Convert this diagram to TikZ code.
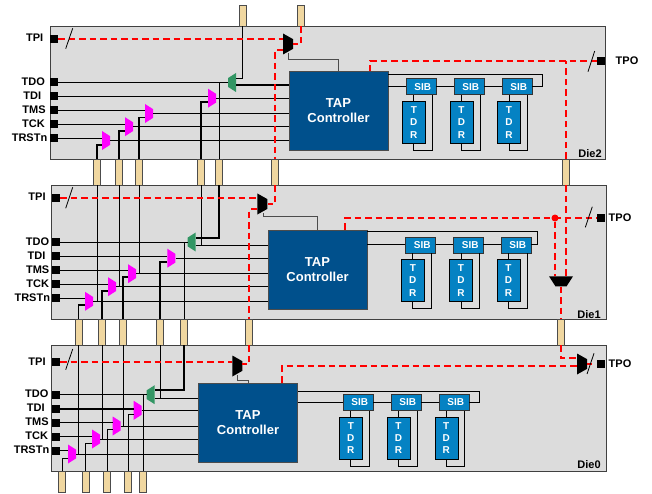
\documentclass[tikz,border=0pt]{standalone}
\usepackage{fontspec}
\setmainfont{Liberation Sans}
\usetikzlibrary{shapes.geometric}
\definecolor{dieback}{RGB}{220,220,220}
\definecolor{tapblue}{RGB}{0,80,140}
\definecolor{sibblue}{RGB}{5,130,195}
\definecolor{tsvtan}{RGB}{240,215,160}
\definecolor{muxgreen}{RGB}{50,150,100}
\definecolor{muxpurple}{RGB}{255,0,255}
\definecolor{scanred}{RGB}{255,0,0}
\tikzset{
  diebox/.style={draw=black!75, fill=dieback, line width=0.9pt, minimum width=555pt, inner sep=0pt},
  tapbox/.style={draw=black!70, fill=tapblue, text=white, font=\fontsize{13}{15}\selectfont\bfseries, align=center, minimum width=99pt, minimum height=79pt, inner sep=0pt},
  sibbox/.style={draw=black!80, fill=sibblue, text=white, font=\fontsize{10}{12}\selectfont\bfseries, minimum width=30pt, minimum height=16pt, inner sep=0pt},
  tdrbox/.style={draw=black, fill=sibblue, text=white, font=\fontsize{10}{12.2}\selectfont\bfseries, align=center, minimum width=23pt, minimum height=42pt, inner sep=0pt},
  tsvbox/.style={draw=black!70, fill=tsvtan, line width=0.6pt, minimum width=7pt, inner sep=0pt},
  pinbox/.style={fill=black, minimum size=8pt, inner sep=0pt},
  pinlabel/.style={font=\fontsize{11}{12}\selectfont\bfseries, inner sep=0pt},
  dielabel/.style={font=\fontsize{11}{12}\selectfont\bfseries, inner sep=0pt},
  mux/.style={trapezium, trapezium left angle=60, trapezium right angle=60, trapezium stretches=true, inner sep=0.5pt, minimum height=8pt, minimum width=19pt, shape border rotate=#1},
  muxpink/.style={mux=270, fill=muxpurple},
  muxgrn/.style={mux=90, fill=muxgreen},
  muxblk/.style={mux=#1, fill=black, minimum height=10pt, minimum width=21pt},
  wire/.style={line width=0.8pt},
  bus/.style={line width=1.6pt},
  cfgwire/.style={line width=0.8pt, draw=black!70},
  redwire/.style={scanred, line width=1.4pt, dash pattern=on 6.5pt off 4pt},
}
\begin{document}
\begin{tikzpicture}[x=1pt,y=-1pt]
\useasboundingbox (0,0) rectangle (652,494);
% dies
\node[diebox, minimum height=133pt] (die2) at (327.5,92.5) {};
\node[diebox, minimum height=134pt] (die1) at (328.5,252) {};
\node[diebox, minimum height=126pt] (die0) at (328.5,408) {};
\node[dielabel] (name2) at (590,154) {Die2};
\node[dielabel] (name1) at (589,315) {Die1};
\node[dielabel] (name0) at (589,465) {Die0};
% TSVs
\node[tsvbox, minimum height=21pt] (vt2a) at (242.5,15.5) {};
\node[tsvbox, minimum height=21pt] (vt2b) at (301,15.5) {};
\node[tsvbox, minimum height=26pt] (v21a) at (97,172) {};
\node[tsvbox, minimum height=26pt] (v21b) at (119,172) {};
\node[tsvbox, minimum height=26pt] (v21c) at (139,172) {};
\node[tsvbox, minimum height=26pt] (v21d) at (201,172) {};
\node[tsvbox, minimum height=26pt] (v21e) at (219,172) {};
\node[tsvbox, minimum height=26pt] (v21t) at (275,172) {};
\node[tsvbox, minimum height=26pt] (v21o) at (566,172) {};
\node[tsvbox, minimum height=26pt] (v10a) at (78.5,332) {};
\node[tsvbox, minimum height=26pt] (v10b) at (102,332) {};
\node[tsvbox, minimum height=26pt] (v10c) at (123,332) {};
\node[tsvbox, minimum height=26pt] (v10d) at (160,332) {};
\node[tsvbox, minimum height=26pt] (v10e) at (184,332) {};
\node[tsvbox, minimum height=26pt] (v10t) at (249,332) {};
\node[tsvbox, minimum height=26pt] (v10o) at (561,332) {};
\node[tsvbox, minimum height=21pt] (v0a) at (62,481.5) {};
\node[tsvbox, minimum height=21pt] (v0b) at (85.5,481.5) {};
\node[tsvbox, minimum height=21pt] (v0c) at (107,481.5) {};
\node[tsvbox, minimum height=21pt] (v0d) at (128,481.5) {};
\node[tsvbox, minimum height=21pt] (v0e) at (143,481.5) {};
% pins
\node[pinbox] (ptpi2) at (54,39) {};
\node[pinbox] (ptdo2) at (54,82) {};
\node[pinbox] (ptdi2) at (54,96) {};
\node[pinbox] (ptms2) at (54,110) {};
\node[pinbox] (ptck2) at (54,124) {};
\node[pinbox] (prst2) at (54,138) {};
\node[pinbox] (ptpo2) at (601,61) {};
\node[pinbox] (ptpi1) at (56,198) {};
\node[pinbox] (ptdo1) at (56,242) {};
\node[pinbox] (ptdi1) at (56,256) {};
\node[pinbox] (ptms1) at (56,270) {};
\node[pinbox] (ptck1) at (56,284) {};
\node[pinbox] (prst1) at (56,298) {};
\node[pinbox] (ptpo1) at (601,218) {};
\node[pinbox] (ptpi0) at (56,362) {};
\node[pinbox] (ptdo0) at (56,394.5) {};
\node[pinbox] (ptdi0) at (56,408.7) {};
\node[pinbox] (ptms0) at (56,422.5) {};
\node[pinbox] (ptck0) at (56,436.5) {};
\node[pinbox] (prst0) at (56,450.5) {};
\node[pinbox] (ptpo0) at (601,364) {};
\node[pinlabel] (ltpi2) at (34.7,38) {TPI};
\node[pinlabel] (ltdo2) at (33.3,81.5) {TDO};
\node[pinlabel] (ltdi2) at (32.3,95.5) {TDI};
\node[pinlabel] (ltms2) at (34,109.5) {TMS};
\node[pinlabel] (ltck2) at (33.5,123.5) {TCK};
\node[pinlabel] (lrst2) at (29.5,137.5) {TRSTn};
\node[pinlabel] (ltpo2) at (627,60.5) {TPO};
\node[pinlabel] (ltpi1) at (37,197) {TPI};
\node[pinlabel] (ltdo1) at (37.5,241.5) {TDO};
\node[pinlabel] (ltdi1) at (36.5,255.5) {TDI};
\node[pinlabel] (ltms1) at (37.7,269.5) {TMS};
\node[pinlabel] (ltck1) at (37.7,283.5) {TCK};
\node[pinlabel] (lrst1) at (32.3,297.5) {TRSTn};
\node[pinlabel] (ltpo1) at (620,217.5) {TPO};
\node[pinlabel] (ltpi0) at (37,361.5) {TPI};
\node[pinlabel] (ltdo0) at (36.7,394) {TDO};
\node[pinlabel] (ltdi0) at (35.7,408) {TDI};
\node[pinlabel] (ltms0) at (37,422) {TMS};
\node[pinlabel] (ltck0) at (36.7,436) {TCK};
\node[pinlabel] (lrst0) at (31.5,449.5) {TRSTn};
\node[pinlabel] (ltpo0) at (620,363.5) {TPO};
% TAP controllers
\node[tapbox] (tap2) at (338.5,111) {TAP\\Controller};
\node[tapbox] (tap1) at (317.5,269.5) {TAP\\Controller};
\node[tapbox] (tap0) at (248,423) {TAP\\Controller};
% SIBs and TDRs
\node[sibbox] (sib21) at (420.7,86.7) {\hspace*{4pt}SIB};
\node[sibbox] (sib22) at (468.7,86.7) {\hspace*{4pt}SIB};
\node[sibbox] (sib23) at (516.7,86.7) {\hspace*{4pt}SIB};
\node[tdrbox] (tdr21) at (413.8,122.5) {T\\D\\R};
\node[tdrbox] (tdr22) at (461.5,122.5) {T\\D\\R};
\node[tdrbox] (tdr23) at (509,122.5) {T\\D\\R};
\node[sibbox] (sib11) at (420.3,244.8) {\hspace*{4pt}SIB};
\node[sibbox] (sib12) at (468.2,244.8) {\hspace*{4pt}SIB};
\node[sibbox] (sib13) at (515.7,244.8) {\hspace*{4pt}SIB};
\node[tdrbox] (tdr11) at (412.8,280.5) {T\\D\\R};
\node[tdrbox] (tdr12) at (461,280.5) {T\\D\\R};
\node[tdrbox] (tdr13) at (508.5,280.5) {T\\D\\R};
\node[sibbox] (sib01) at (357.8,402.3) {\hspace*{4pt}SIB};
\node[sibbox] (sib02) at (405.7,402.3) {\hspace*{4pt}SIB};
\node[sibbox] (sib03) at (453.7,402.3) {\hspace*{4pt}SIB};
\node[tdrbox] (tdr01) at (350.8,438.3) {T\\D\\R};
\node[tdrbox] (tdr02) at (398.5,438.3) {T\\D\\R};
\node[tdrbox] (tdr03) at (446.2,438.3) {T\\D\\R};
% muxes
\node[muxpink] (mrst2) at (106,140.5) {};
\node[muxpink] (mck2) at (129,126.7) {};
\node[muxpink] (mms2) at (149,113.5) {};
\node[muxpink] (mdi2) at (212,98.2) {};
\node[muxgrn] (mdo2) at (232,82.5) {};
\node[muxblk=270] (mtp2) at (288,44) {};
\node[muxpink] (mrst1) at (89,301.3) {};
\node[muxpink] (mck1) at (112,286.7) {};
\node[muxpink] (mms1) at (132,273.7) {};
\node[muxpink] (mdi1) at (171.3,258.2) {};
\node[muxgrn] (mdo1) at (191.7,242) {};
\node[muxblk=270] (mtp1) at (262.4,204) {};
\node[muxblk=180, minimum width=24pt] (mto1) at (561,281.3) {};
\node[muxpink] (mrst0) at (72,454) {};
\node[muxpink] (mck0) at (96,439) {};
\node[muxpink] (mms0) at (116.7,426) {};
\node[muxpink] (mdi0) at (137.7,410.3) {};
\node[muxgrn] (mdo0) at (150.7,394.7) {};
\node[muxblk=270] (mtp0) at (237.3,366) {};
\node[muxblk=270] (mto0) at (582,364) {};
% named ends
\coordinate (srst2) at (102,145);
\coordinate (sck2) at (125,131);
\coordinate (sms2) at (145,117.7);
\coordinate (sdi2) at (208,102);
\coordinate (sdo2) at (236,85);
\coordinate (udo2) at (236,78.3);
\coordinate (srst1) at (85,305);
\coordinate (sck1) at (108,290.7);
\coordinate (sms1) at (128,276.7);
\coordinate (sdi1) at (167.3,261.7);
\coordinate (sdo1) at (195.7,245);
\coordinate (udo1) at (195.7,238);
\coordinate (srst0) at (68,458.3);
\coordinate (sck0) at (92,443.3);
\coordinate (sms0) at (112.7,429.3);
\coordinate (sdi0) at (133.7,414);
\coordinate (sdo0) at (154.7,398.3);
\coordinate (udo0) at (154.7,390);
\coordinate (ret2) at (542.7,74.3);
\coordinate (ret1) at (537.7,231.3);
\coordinate (ret0) at (479.3,391);
\coordinate (lp21) at (432.3,150.3);
\coordinate (lp22) at (480.3,150.3);
\coordinate (lp23) at (527.3,150.3);
\coordinate (lp11) at (431.3,308);
\coordinate (lp12) at (479.3,308);
\coordinate (lp13) at (527.3,308);
\coordinate (lp01) at (369.7,466.3);
\coordinate (lp02) at (417.7,466.3);
\coordinate (lp03) at (464.7,466.3);
\coordinate (rout2) at (283,50);
\coordinate (rout1) at (257,209);
\coordinate (rtap2) at (370,71.5);
\coordinate (rtap1) at (345,229.5);
\coordinate (rtap0) at (282,382.5);
\coordinate (rin0) at (242,364);
\coordinate (rend0) at (577,366);
\coordinate (rsel0) at (577,358);
\coordinate (rpin0) at (592,364);
\coordinate (cfg2) at (288,53);
\coordinate (bnd2) at (288,59);
\coordinate (cfg1) at (263.3,213);
\coordinate (bnd1) at (263.3,216.7);
\coordinate (cfg0) at (237,375);
\coordinate (bnd0) at (237,380.7);
% die 2 wires
\draw[wire] (prst2.east) -- (prst2.east -| mrst2.west);
\draw[wire] (ptck2.east) -- (ptck2.east -| mck2.west);
\draw[wire] (ptms2.east) -- (ptms2.east -| mms2.west);
\draw[wire] (ptdi2.east) -- (ptdi2.east -| mdi2.west);
\draw[wire] (ptdo2.east) -- (ptdo2.east -| mdo2.west);
\draw[wire] (mrst2.east) -- (mrst2.east -| tap2.west);
\draw[wire] (mck2.east) -- (mck2.east -| tap2.west);
\draw[wire] (mms2.east) -- (mms2.east -| tap2.west);
\draw[wire] (mdi2.east) -- (mdi2.east -| tap2.west);
\draw[bus] (sdo2) -- (sdo2 -| tap2.west);
\draw[wire] (vt2a.south) |- (udo2);
\draw[bus] (v21a.north) |- (srst2);
\draw[bus] (v21b.north) |- (sck2);
\draw[bus] (v21c.north) |- (sms2);
\draw[bus] (v21d.north) |- (sdi2);
\draw[wire] (v21e.north) -- (v21e.north |- ptdo2.east);
\draw[wire] (tap2.east |- sib21.west) -- (sib21.west);
\draw[wire] (sib21) -- (sib22);
\draw[wire] (sib22) -- (sib23);
\draw[wire] (sib23.east) -| (ret2) -- (ret2 -| tap2.east);
\draw[wire] (tdr21.north) -- (tdr21.north |- sib21.south);
\draw[wire] (tdr22.north) -- (tdr22.north |- sib22.south);
\draw[wire] (tdr23.north) -- (tdr23.north |- sib23.south);
\draw[wire] (tdr21.south) |- (lp21) -- (lp21 |- sib21.south);
\draw[wire] (tdr22.south) |- (lp22) -- (lp22 |- sib22.south);
\draw[wire] (tdr23.south) |- (lp23) -- (lp23 |- sib23.south);
\draw[cfgwire] (cfg2) -- (bnd2) -| (tap2.north);
% die 1 wires
\draw[wire] (prst1.east) -- (prst1.east -| mrst1.west);
\draw[wire] (ptck1.east) -- (ptck1.east -| mck1.west);
\draw[wire] (ptms1.east) -- (ptms1.east -| mms1.west);
\draw[wire] (ptdi1.east) -- (ptdi1.east -| mdi1.west);
\draw[wire] (ptdo1.east) -- (ptdo1.east -| mdo1.west);
\draw[wire] (mrst1.east) -- (mrst1.east -| tap1.west);
\draw[wire] (mck1.east) -- (mck1.east -| tap1.west);
\draw[wire] (mms1.east) -- (mms1.east -| tap1.west);
\draw[wire] (mdi1.east) -- (mdi1.east -| tap1.west);
\draw[wire] (sdo1) -- (sdo1 -| tap1.west);
\draw[wire] (v21a.south) -- (v21a.south |- mrst1.east);
\draw[wire] (v21b.south) -- (v21b.south |- mck1.east);
\draw[wire] (v21c.south) -- (v21c.south |- mms1.east);
\draw[wire] (v21d.south) -- (v21d.south |- sdo1);
\draw[bus] (v21e.south) |- (udo1);
\draw[bus] (v10a.north) |- (srst1);
\draw[bus] (v10b.north) |- (sck1);
\draw[bus] (v10c.north) |- (sms1);
\draw[bus] (v10d.north) |- (sdi1);
\draw[wire] (v10e.north) -- (v10e.north |- ptdo1.east);
\draw[wire] (tap1.east |- sib11.west) -- (sib11.west);
\draw[wire] (sib11) -- (sib12);
\draw[wire] (sib12) -- (sib13);
\draw[wire] (sib13.east) -| (ret1) -- (ret1 -| tap1.east);
\draw[wire] (tdr11.north) -- (tdr11.north |- sib11.south);
\draw[wire] (tdr12.north) -- (tdr12.north |- sib12.south);
\draw[wire] (tdr13.north) -- (tdr13.north |- sib13.south);
\draw[wire] (tdr11.south) |- (lp11) -- (lp11 |- sib11.south);
\draw[wire] (tdr12.south) |- (lp12) -- (lp12 |- sib12.south);
\draw[wire] (tdr13.south) |- (lp13) -- (lp13 |- sib13.south);
\draw[cfgwire] (cfg1) -- (bnd1) -| (tap1.north);
% die 0 wires
\draw[bus] (prst0.east) -- (prst0.east -| mrst0.west);
\draw[bus] (ptck0.east) -- (ptck0.east -| mck0.west);
\draw[bus] (ptms0.east) -- (ptms0.east -| mms0.west);
\draw[bus] (ptdi0.east) -- (ptdi0.east -| mdi0.west);
\draw[bus] (ptdo0.east) -- (ptdo0.east -| mdo0.west);
\draw[wire] (mrst0.east) -- (mrst0.east -| tap0.west);
\draw[wire] (mck0.east) -- (mck0.east -| tap0.west);
\draw[wire] (mms0.east) -- (mms0.east -| tap0.west);
\draw[wire] (mdi0.east) -- (mdi0.east -| tap0.west);
\draw[wire] (sdo0) -- (sdo0 -| tap0.west);
\draw[wire] (v10a.south) -- (v10a.south |- mrst0.east);
\draw[wire] (v10b.south) -- (v10b.south |- mck0.east);
\draw[wire] (v10c.south) -- (v10c.south |- mms0.east);
\draw[wire] (v10d.south) -- (v10d.south |- sdo0);
\draw[bus] (v10e.south) |- (udo0);
\draw[wire] (v0a.north) |- (srst0);
\draw[wire] (v0b.north) |- (sck0);
\draw[wire] (v0c.north) |- (sms0);
\draw[wire] (v0d.north) |- (sdi0);
\draw[wire] (v0e.north) -- (v0e.north |- ptdo0.east);
\draw[wire] (tap0.east |- sib01.west) -- (sib01.west);
\draw[wire] (sib01) -- (sib02);
\draw[wire] (sib02) -- (sib03);
\draw[wire] (sib03.east) -| (ret0) -- (ret0 -| tap0.east);
\draw[wire] (tdr01.north) -- (tdr01.north |- sib01.south);
\draw[wire] (tdr02.north) -- (tdr02.north |- sib02.south);
\draw[wire] (tdr03.north) -- (tdr03.north |- sib03.south);
\draw[wire] (tdr01.south) |- (lp01) -- (lp01 |- sib01.south);
\draw[wire] (tdr02.south) |- (lp02) -- (lp02 |- sib02.south);
\draw[wire] (tdr03.south) |- (lp03) -- (lp03 |- sib03.south);
\draw[cfgwire] (cfg0) -- (bnd0) -| (tap0.north);
% red scan path
\draw[redwire] (ptpi2.east) -- (ptpi2.east -| mtp2.west);
\draw[redwire] (vt2b.south) |- (mtp2.east);
\draw[redwire] (rout2) -| (v21t.north);
\draw[redwire] (rtap2) |- (ptpo2.west);
\draw[redwire] (v21o.north) -- (v21o.north |- ptpo2.west);
\draw[redwire] (ptpi1.east) -- (ptpi1.east -| mtp1.west);
\draw[redwire] (v21t.south) |- (mtp1.east);
\draw[redwire] (rout1) -| (v10t.north);
\draw[redwire] (rtap1) |- (ptpo1.west);
\draw[redwire] (v21o.south) -- (v21o.south |- mto1.north);
\node[circle, fill=scanred, minimum size=7pt, inner sep=0pt] (dot1) at (555,218) {};
\draw[redwire] (dot1) -- (dot1 |- mto1.north);
\draw[redwire] (mto1.south) -- (v10o.north);
\draw[redwire] (ptpi0.east) -- (ptpi0.east -| mtp0.west);
\draw[redwire] (v10t.south) |- (rin0);
\draw[redwire] (rtap0) |- (rend0);
\draw[redwire] (v10o.south) |- (rsel0);
\draw[redwire] (mto0.east) -- (rpin0);
% bus slashes
\draw[wire] (65.7,48.7) -- (72.7,28.3);
\draw[wire] (588,71.7) -- (594.7,51);
\draw[wire] (65.7,208.3) -- (72.7,187.3);
\draw[wire] (585.3,227.3) -- (592.3,206.7);
\draw[wire] (65.7,369.7) -- (72.7,349);
\draw[wire] (587,374) -- (594,353.3);
\end{tikzpicture}
\end{document}
